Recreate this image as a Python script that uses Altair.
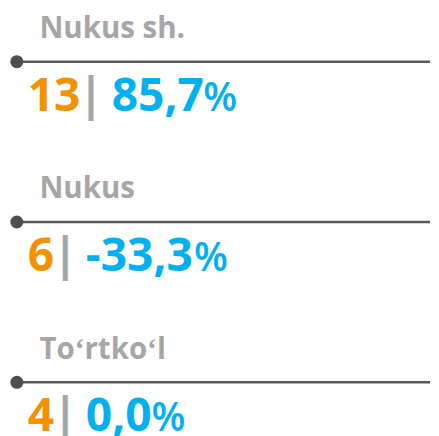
import altair as alt
import pandas as pd

labels = ["Nukus sh.", "Nukus", "To\u02bbrtko\u02bbl"]
counts = [13, 6, 4]
pcts = [85.7, -33.3, 0.0]

W, H = 431, 428
FONT = "Open Sans"
NUM_SIZE = 47
PCT_SIGN_SIZE = 40
DIGIT = 0.56 * NUM_SIZE
COMMA = 0.26 * NUM_SIZE
MINUS = 0.36 * NUM_SIZE

def fmt_pct(v):
    return f"{v:.1f}".replace(".", ",")

def width_of(s):
    w = 0.0
    for ch in s:
        if ch.isdigit():
            w += DIGIT
        elif ch == ",":
            w += COMMA
        elif ch == "-":
            w += MINUS
    return w

rows = []
x0 = 20
for lab, c, p in zip(labels, counts, pcts):
    cs = str(c)
    ps = fmt_pct(p)
    sep_x = x0 + len(cs) * DIGIT + 12
    pct_x = sep_x + 21
    sign_x = pct_x + width_of(ps) + 2
    rows.append(dict(label=lab, count=cs, pct=ps, sep="|", sign="%",
                     x0=x0, sep_x=sep_x, pct_x=pct_x, sign_x=sign_x, lab_x=32))
df = pd.DataFrame(rows)

xs = alt.Scale(domain=[0, W], range=[0, W])
ys = alt.Scale(type="point", domain=labels, padding=0.31)
Y = alt.Y("label:N", scale=ys, axis=None)

base = alt.Chart(df)

rule = base.mark_rule(color="#595959", strokeWidth=2.6).encode(
    x=alt.value(8), x2=alt.value(430), y=Y)
dot = base.mark_circle(size=175, opacity=1, color="#4f4f4f").encode(
    x=alt.value(9), y=Y)

lab = base.mark_text(align="left", baseline="alphabetic", dy=-24, font=FONT,
                     fontWeight="bold", fontSize=30, color="#A6A6A6").encode(
    x=alt.X("lab_x:Q", scale=xs, axis=None), y=Y, text="label:N")

num = base.mark_text(align="left", baseline="alphabetic", dy=50, font=FONT,
                     fontWeight="bold", fontSize=NUM_SIZE, color="#F39200").encode(
    x=alt.X("x0:Q", scale=xs, axis=None), y=Y, text="count:N")

sep = base.mark_text(align="center", baseline="alphabetic", dy=50, font=FONT,
                     fontWeight="bold", fontSize=NUM_SIZE, color="#A6A6A6").encode(
    x=alt.X("sep_x:Q", scale=xs, axis=None), y=Y, text="sep:N")

pct = base.mark_text(align="left", baseline="alphabetic", dy=50, font=FONT,
                     fontWeight="bold", fontSize=NUM_SIZE, color="#00B0F0").encode(
    x=alt.X("pct_x:Q", scale=xs, axis=None), y=Y, text="pct:N")

sign = base.mark_text(align="left", baseline="alphabetic", dy=50, font=FONT,
                      fontWeight=600, fontSize=PCT_SIGN_SIZE, color="#00B0F0").encode(
    x=alt.X("sign_x:Q", scale=xs, axis=None), y=Y, text="sign:N")

chart = alt.layer(rule, dot, lab, num, sep, pct, sign).properties(
    width=W, height=H, padding=0, autosize=alt.AutoSizeParams(type="none"),
    background="white"
).configure_view(stroke=None)

chart.save("out.html", embed_options={"renderer": "svg", "actions": False})
